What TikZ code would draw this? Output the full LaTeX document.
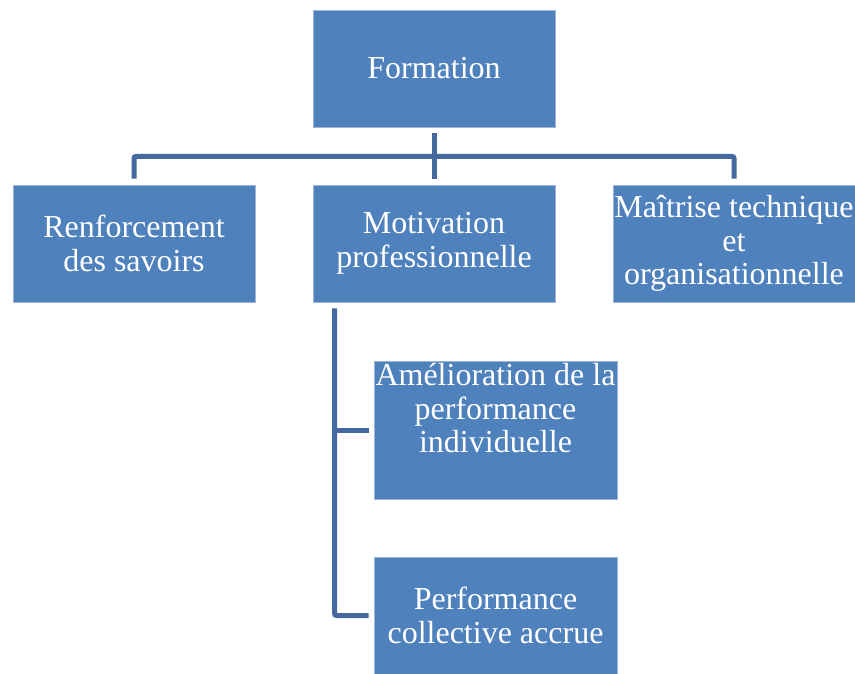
\documentclass[tikz,border=0pt]{standalone}
\usepackage{fontspec}
\setmainfont{Liberation Serif}
\usepackage{tikz}
\usetikzlibrary{positioning}
\definecolor{boxblue}{HTML}{4F81BD}
\definecolor{boxedge}{HTML}{9DB6D8}
\definecolor{linkblue}{HTML}{44699E}
\tikzset{
orgbox/.style = {rectangle, fill=boxblue, draw=boxedge, line width=0.8pt, align=center, inner sep=0pt,
text=white, font=\fontsize{32}{33.5}\selectfont, minimum width=242pt, minimum height=117pt},% boite bleue
subbox/.style = {orgbox, minimum width=243pt},% boite du second niveau
orglink/.style = {draw=linkblue, line width=5pt, rounded corners=2pt}% trait de liaison
}
\begin{document}
\begin{tikzpicture}[x=1pt, y=-1pt]
  \useasboundingbox (0,0) rectangle (855,673);
  \node [orgbox] (formation) at (434,68.5) {Formation};
  \node [orgbox] (renforcement) at (134,243.5) {Renforcement\\des savoirs};
  \node [orgbox] (motivation) at (434,243.5) {Motivation\\professionnelle};
  \node [orgbox] (maitrise) at (734,243.5) {Maîtrise technique\\et\\organisationnelle};
  \node [subbox, minimum height=138pt] (amelioration) at (495.5,430)
    {Amélioration de la\\performance\\individuelle\\[10pt]\mbox{}};
  \node [subbox] (performance) at (495.5,615.5) {Performance\\collective accrue};
  % liaisons
  \draw [orglink] ([yshift=-6pt]formation.south) -- ([yshift=6pt]motivation.north);
  \draw [orglink] ([yshift=6pt]renforcement.north) |- ([yshift=-29pt]formation.south)
    -| ([yshift=6pt]maitrise.north);
  \coordinate (trunk) at ([xshift=22pt,yshift=-6pt]motivation.south west);
  \draw [orglink] (trunk) |- ([xshift=-5pt]performance.west);
  \draw [orglink] ([xshift=-5pt]amelioration.west) -- (amelioration.west -| trunk);
\end{tikzpicture}
\end{document}
